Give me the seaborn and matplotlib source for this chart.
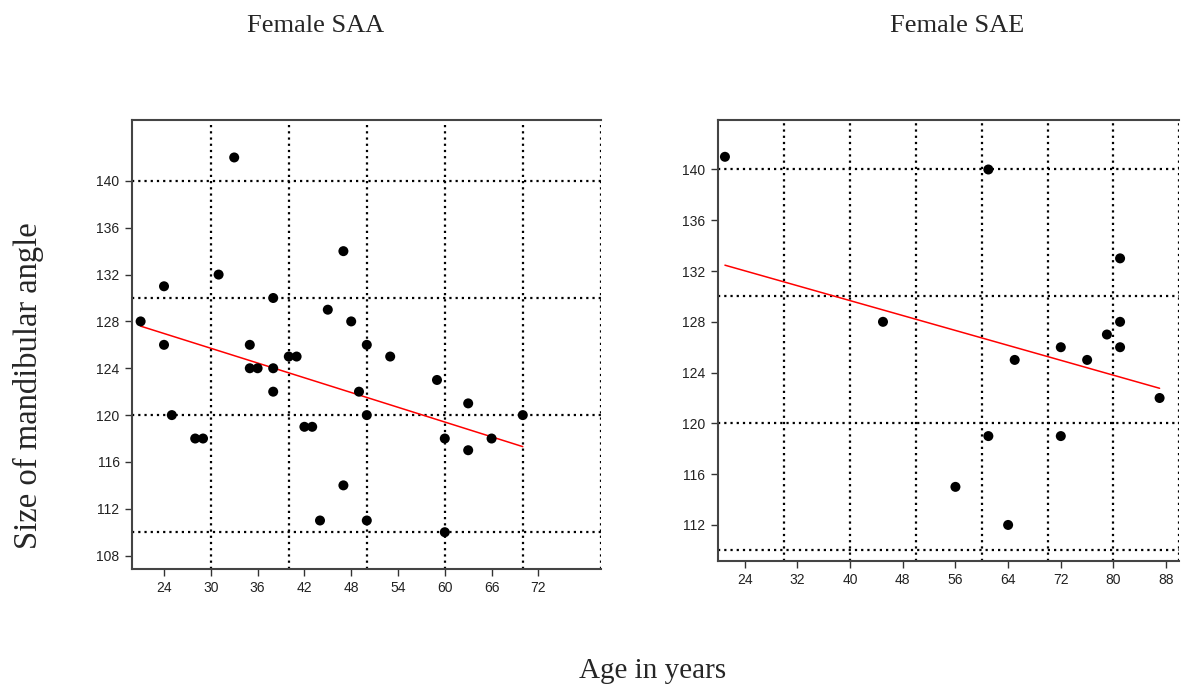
import numpy as np
import pandas as pd
import matplotlib
matplotlib.use("Agg")
import matplotlib.pyplot as plt
import seaborn as sns

# Female SAA: age vs size of mandibular angle
saa_age = [33, 47, 31, 24, 38, 21, 45, 48, 24, 35, 50, 40, 41, 53, 35, 36, 38, 59,
           38, 49, 63, 25, 28, 29, 42, 43, 50, 70, 60, 63, 66, 47, 44, 50, 60]
saa_angle = [142, 134, 132, 131, 130, 128, 129, 128, 126, 126, 126, 125, 125, 125, 124, 124, 124, 123,
             122, 122, 121, 120, 118, 118, 119, 119, 120, 120, 118, 117, 118, 114, 111, 111, 110]

# Female SAE
sae_age = [21, 61, 81, 45, 81, 79, 72, 81, 65, 76, 87, 61, 72, 56, 64]
sae_angle = [141, 140, 133, 128, 128, 127, 126, 126, 125, 125, 122, 119, 119, 115, 112]

saa_xticks = [24, 30, 36, 42, 48, 54, 60, 66, 72]
saa_yticks = [108, 112, 116, 120, 124, 128, 132, 136, 140]
sae_xticks = [24, 32, 40, 48, 56, 64, 72, 80, 88]
sae_yticks = [112, 116, 120, 124, 128, 132, 136, 140]

df_saa = pd.DataFrame({"age": saa_age, "angle": saa_angle})
df_sae = pd.DataFrame({"age": sae_age, "angle": sae_angle})

sns.set_style("white")
plt.rcParams["font.family"] = ["Liberation Sans", "DejaVu Sans"]

fig = plt.figure(figsize=(11.81, 6.88), dpi=100)
ax1 = fig.add_axes([0.1118, 0.1730, 0.3969, 0.6526])
ax2 = fig.add_axes([0.6077, 0.1846, 0.3909, 0.6410])

panels = [
    (ax1, df_saa, (19.9, 80), (106.86, 145.2), saa_xticks, saa_yticks,
     [30, 40, 50, 60, 70, 80], [110, 120, 130, 140]),
    (ax2, df_sae, (19.9, 90), (109.16, 143.9), sae_xticks, sae_yticks,
     [30, 40, 50, 60, 70, 80, 90], [110, 120, 130, 140]),
]

for ax, d, xl, yl, xt, yt, gx, gy in panels:
    # dotted reference grid (not at the tick positions)
    for v in gx:
        ax.axvline(v, color="black", lw=1.6, ls=(0, (1, 1.8)), zorder=1)
    for h in gy:
        ax.axhline(h, color="black", lw=1.6, ls=(0, (1, 1.8)), zorder=1)

    sns.regplot(data=d, x="age", y="angle", ax=ax, ci=None,
                scatter_kws=dict(s=52, color="black", edgecolor="none", alpha=1, zorder=3),
                line_kws=dict(color="red", lw=1.1, zorder=2))

    ax.set_xlim(*xl)
    ax.set_ylim(*yl)
    ax.set_xticks(xt)
    ax.set_yticks(yt)
    ax.set_xlabel("")
    ax.set_ylabel("")
    ax.tick_params(axis="both", direction="out", length=5, width=1, color="#333333",
                   labelsize=10, labelcolor="#222222", pad=4)
    ax.tick_params(axis="y", left=True)
    ax.tick_params(axis="x", bottom=True)
    for s in ["left", "bottom", "top"]:
        ax.spines[s].set_visible(True)
        ax.spines[s].set_color("#444444")
        ax.spines[s].set_linewidth(1.5)
    ax.spines["right"].set_visible(False)

serif = ["Liberation Serif", "DejaVu Serif"]
fig.text(316 / 1181, 1 - 26 / 688, "Female SAA", ha="center", va="center", fontsize=19, family=serif)
fig.text(957 / 1181, 1 - 26 / 688, "Female SAE", ha="center", va="center", fontsize=19, family=serif)
fig.text(28 / 1181, 1 - 386 / 688, "Size of mandibular angle", ha="center", va="center",
         rotation=90, fontsize=23.5, family=serif)
fig.text(653 / 1181, 1 - 671 / 688, "Age in years", ha="center", va="center", fontsize=21, family=serif)

plt.savefig("out.png", dpi=100)
